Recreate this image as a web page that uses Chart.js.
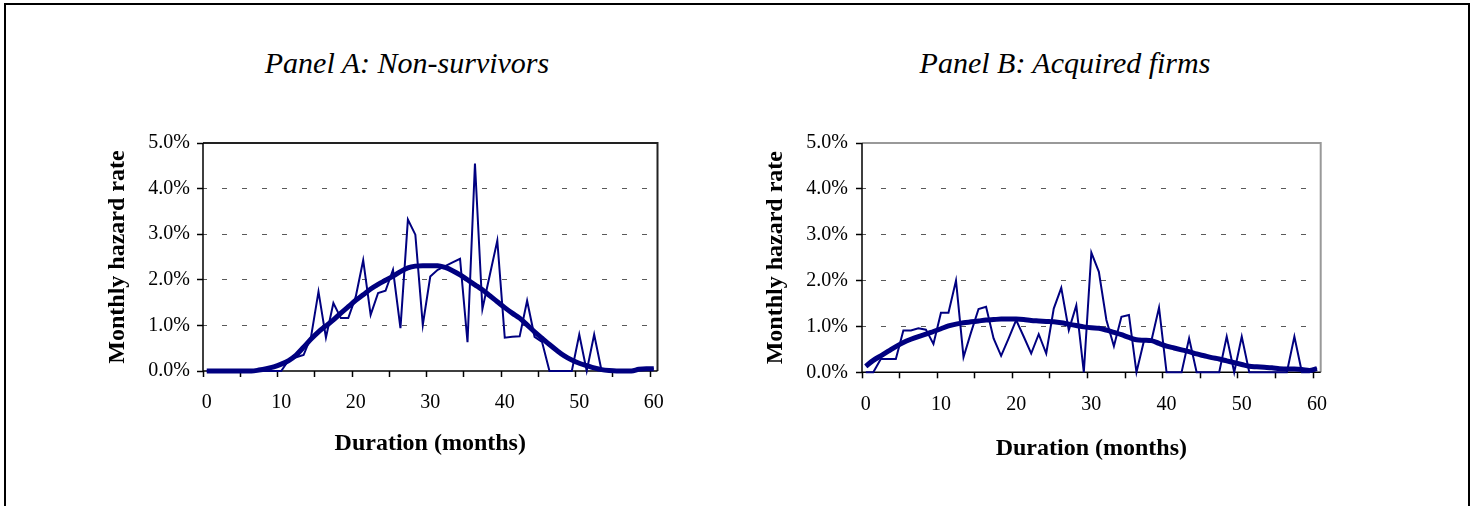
<!DOCTYPE html>
<html>
<head>
<meta charset="utf-8">
<script src="https://cdn.jsdelivr.net/npm/chart.js@4.4.1/dist/chart.umd.min.js"></script>
<style>
  html, body { margin: 0; padding: 0; background: #fff; width: 1476px; height: 506px; overflow: hidden; }
  #frame { position: absolute; left: 4px; top: 3px; width: 1462px; height: 520px; border: 2px solid #000; }
  .cv { position: absolute; top: 0; }
  .ptitle { position: absolute; top: 45px; font-family: 'Liberation Serif', 'Times New Roman', serif; font-style: italic;
            font-size: 30px; line-height: 36px; white-space: nowrap; transform: translateX(-50%); color: #000; }
</style>
</head>
<body>
<div id="frame"></div>
<div class="ptitle" style="left:407px">Panel A: Non-survivors</div>
<div class="ptitle" style="left:1065px">Panel B: Acquired firms</div>
<div class="cv" style="left:0px"><canvas id="chartA" width="738" height="506"></canvas></div>
<div class="cv" style="left:738px"><canvas id="chartB" width="738" height="506"></canvas></div>

<script>
// duration in months (categories)
var months = [0,1,2,3,4,5,6,7,8,9,10,11,12,13,14,15,16,17,18,19,20,
              21,22,23,24,25,26,27,28,29,30,31,32,33,34,35,36,37,38,39,40,
              41,42,43,44,45,46,47,48,49,50,51,52,53,54,55,56,57,58,59,60];
var yTicks = [0, 1, 2, 3, 4, 5];   // percent

// Panel A: non-survivors, monthly hazard rate in %
var nonSurvRaw = [0,0,0,0,0,0,0,0,0,0,0,
                  0.24,0.30,0.35,0.75,1.74,0.73,1.49,1.16,1.16,1.63,
                  2.43,1.23,1.71,1.76,2.22,0.94,3.32,2.99,1.01,2.07,
                  2.22,2.30,2.38,2.46,0.63,4.55,1.36,2.11,2.86,0.73,
                  0.75,0.76,1.54,0.75,0.64,0,0,0,0,0.80,
                  0,0.80,0,0,0,0,0,0.05,0.05,0.05];
var nonSurvSmooth = [0,0,0,0,0,0,0,0.02,0.05,0.09,0.15,
                     0.23,0.35,0.52,0.70,0.86,0.99,1.12,1.27,1.41,1.55,
                     1.67,1.80,1.90,1.99,2.08,2.18,2.26,2.30,2.31,2.31,
                     2.31,2.27,2.20,2.11,2.00,1.89,1.78,1.65,1.52,1.39,
                     1.27,1.16,1.01,0.86,0.72,0.58,0.45,0.33,0.24,0.17,
                     0.12,0.07,0.03,0.01,0,0,0,0.04,0.05,0.05];

// Panel B: acquired firms, monthly hazard rate in %
var acqRaw = [0,0,0.29,0.29,0.29,0.91,0.91,0.96,0.93,0.62,1.30,
              1.30,2.00,0.33,0.87,1.38,1.43,0.74,0.36,0.74,1.14,
              0.78,0.41,0.83,0.41,1.39,1.84,0.92,1.46,0,2.61,
              2.19,1.14,0.57,1.21,1.25,0,0.69,0.70,1.41,0,
              0,0,0.74,0,0,0,0,0.78,0,0.78,
              0,0,0,0,0,0,0.78,0,0,0.09];
var acqSmooth = [0.13,0.26,0.36,0.46,0.56,0.65,0.72,0.78,0.83,0.89,0.95,
                 1.01,1.05,1.08,1.10,1.12,1.14,1.15,1.16,1.16,1.16,
                 1.15,1.13,1.12,1.11,1.10,1.08,1.05,1.02,0.99,0.97,
                 0.96,0.92,0.87,0.82,0.76,0.71,0.70,0.69,0.63,0.57,
                 0.53,0.49,0.45,0.40,0.36,0.32,0.29,0.25,0.21,0.17,
                 0.13,0.12,0.11,0.10,0.08,0.07,0.07,0.06,0.04,0.08];

var serif = "'Liberation Serif', 'Times New Roman', serif";
var navy = '#000080';

// frame round the plot area: axis lines left/bottom, lighter box top/right
var plotFrame = {
  id: 'plotFrame',
  beforeDatasetsDraw: function(chart, args, o) {
    var a = chart.chartArea, c = chart.ctx;
    c.save();
    c.lineWidth = 2;
    c.strokeStyle = o.box;
    c.beginPath(); c.moveTo(a.left, a.top); c.lineTo(a.right, a.top); c.lineTo(a.right, a.bottom); c.stroke();
    c.lineWidth = 1.5;
    c.strokeStyle = '#000';
    c.beginPath(); c.moveTo(a.left, a.top); c.lineTo(a.left, a.bottom); c.lineTo(a.right, a.bottom); c.stroke();
    c.restore();
  }
};

function hazardChart(id, raw, smooth, lay) {
  return new Chart(document.getElementById(id), {
    type: 'line',
    data: {
      labels: months,
      datasets: [
        { data: smooth, borderColor: navy, borderWidth: 5, pointRadius: 0, cubicInterpolationMode: 'monotone', clip: 10 },
        { data: raw, borderColor: navy, borderWidth: 2, pointRadius: 0, tension: 0, clip: 10 }
      ]
    },
    options: {
      responsive: false,
      animation: false,
      events: [],
      layout: { padding: { left: 0, right: lay.right, top: 143, bottom: lay.bottom } },
      plugins: {
        legend: { display: false },
        tooltip: { enabled: false },
        title: { display: false },
        plotFrame: { box: lay.box }
      },
      scales: {
        x: {
          type: 'category',
          offset: true,
          grid: {
            offset: true,
            drawOnChartArea: false,
            tickLength: 6,
            tickWidth: 1.5,
            tickColor: function(ctx) { return (ctx.index !== undefined && ctx.index % 5 === 0) ? '#000' : 'rgba(0,0,0,0)'; }
          },
          border: { display: false },
          ticks: {
            autoSkip: false, maxRotation: 0, minRotation: 0,
            padding: 14, color: '#000',
            font: { family: serif, size: 20 },
            callback: function(v, i) { return i % 10 === 0 ? String(this.getLabelForValue(v)) : ''; }
          },
          title: {
            display: true, text: 'Duration (months)', color: '#000',
            font: { family: serif, size: 24, weight: 'bold' },
            padding: { top: 0, bottom: lay.xTitlePad }
          },
          afterFit: function(s) { s.height = 100; }
        },
        y: {
          min: yTicks[0], max: yTicks[yTicks.length - 1],
          afterBuildTicks: function(s) { s.ticks = yTicks.map(function(v) { return { value: v }; }); },
          grid: {
            color: function(ctx) { return (ctx.tick && ctx.tick.value > 0 && ctx.tick.value < 5) ? '#5a5a5a' : 'rgba(0,0,0,0)'; },
            lineWidth: 1,
            tickLength: 6,
            tickWidth: 1.5,
            tickColor: '#000',
            tickBorderDash: []
          },
          border: { display: false, dash: [5, 15], dashOffset: 1 },
          ticks: {
            padding: lay.yTickPad, color: '#000',
            font: { family: serif, size: 20 },
            callback: function(v) { return Number(v).toFixed(1) + '%'; }
          },
          title: {
            display: true, text: 'Monthly hazard rate', color: '#000',
            font: { family: serif, size: 24, weight: 'bold' },
            padding: { top: lay.yTitlePad, bottom: 0 }
          },
          afterFit: function(s) { s.width = lay.yWidth; }
        }
      }
    },
    plugins: [plotFrame]
  });
}

hazardChart('chartA', nonSurvRaw, nonSurvSmooth,
  { right: 80.5, bottom: 35, yWidth: 203, yTitlePad: 103.6, yTickPad: 7, xTitlePad: 12.6, box: '#222' });
hazardChart('chartB', acqRaw, acqSmooth,
  { right: 155.3, bottom: 33.7, yWidth: 124, yTitlePad: 23.6, yTickPad: 8, xTitlePad: 8.9, box: '#999' });
</script>
</body>
</html>
